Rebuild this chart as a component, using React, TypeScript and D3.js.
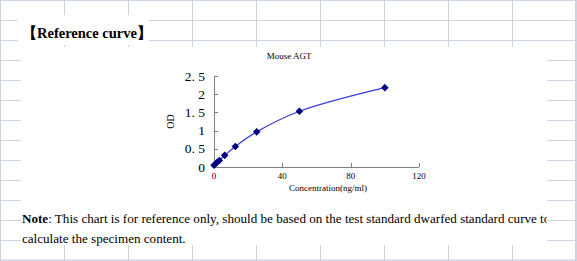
import React from "react";
import * as d3 from "d3";

const concentrations = [0, 1.56, 3.125, 6.25, 12.5, 25, 50, 100];
const odValues = [0.05, 0.12, 0.18, 0.32, 0.565, 0.965, 1.53, 2.18];
const xTicks = [0, 40, 80, 120];
const yTicks = [0, 0.5, 1, 1.5, 2, 2.5];
const chartTitle = "Mouse AGT";
const xTitle = "Concentration(ng/ml)";
const yTitle = "OD";
const heading = "【Reference curve】";
const noteLine1 = ": This chart is for reference only, should be based on the test standard dwarfed standard curve to";
const noteLine2 = "calculate the specimen content.";

const W = 577;
const H = 261;
const gridColor = "#cdd3e2";
const serif = "'Liberation Serif', 'Times New Roman', serif";

export default function App() {
  const x = d3.scaleLinear().domain([0, 120]).range([214, 419]);
  const y = d3.scaleLinear().domain([0, 2.5]).range([167, 76]);
  const pts: [number, number][] = concentrations.map((c, i) => [c, odValues[i]]);
  const line = d3
    .line<[number, number]>()
    .x((d) => x(d[0]))
    .y((d) => y(d[1]))
    .curve(d3.curveCatmullRom.alpha(0.5));

  const vLines = d3.range(64, 577, 64);
  const hLines = d3.range(20, 261, 20);
  const fmtY = (v: number) => (Number.isInteger(v) ? String(v) : String(v).replace(".", ". "));

  return (
    <svg
      width={W}
      height={H}
      style={{ position: "fixed", left: 0, top: 0, background: "#fff" }}
    >
      <defs>
        <clipPath id="noteClip">
          <rect x={20} y={200} width={527} height={50} />
        </clipPath>
      </defs>
      {/* background grid */}
      {vLines.map((v) => (
        <line key={"v" + v} x1={v + 0.5} x2={v + 0.5} y1={0} y2={H} stroke={gridColor} strokeWidth={1} />
      ))}
      {hLines.map((h) => (
        <line key={"h" + h} x1={0} x2={W} y1={h + 0.5} y2={h + 0.5} stroke={gridColor} strokeWidth={1} />
      ))}
      <rect x={0.5} y={0.5} width={575} height={259.5} fill="none" stroke={gridColor} strokeWidth={1} />
      {/* white panels */}
      <rect x={18} y={15} width={131} height={30} fill="#fff" />
      <rect x={21} y={47} width={526} height={198} fill="#fff" />

      {/* heading */}
      <text x={22} y={38} fontFamily={serif} fontSize={14.5} fontWeight="bold" fill="#000">
        {heading}
      </text>

      {/* chart title */}
      <text x={289} y={59} textAnchor="middle" fontFamily={serif} fontSize={9} fill="#000">
        {chartTitle}
      </text>

      {/* axes */}
      <g stroke="#808080" strokeWidth={1} fill="none">
        <line x1={x(0) + 0.5} x2={x(0) + 0.5} y1={y(2.5)} y2={y(0)} />
        <line x1={x(0)} x2={x(120)} y1={y(0) + 0.5} y2={y(0) + 0.5} />
        {yTicks.map((t) => (
          <line key={"yt" + t} x1={x(0)} x2={x(0) + 4} y1={Math.round(y(t)) + 0.5} y2={Math.round(y(t)) + 0.5} />
        ))}
        {xTicks.map((t) => (
          <line key={"xt" + t} x1={Math.round(x(t)) + 0.5} x2={Math.round(x(t)) + 0.5} y1={y(0)} y2={y(0) - 4} />
        ))}
      </g>
      {yTicks.map((t) => (
        <text
          key={"yl" + t}
          x={205}
          y={y(t) + 4.5}
          textAnchor="end"
          fontFamily={serif}
          fontSize={13.5}
          fill="#000"
        >
          {fmtY(t)}
        </text>
      ))}
      {xTicks.map((t) => (
        <text
          key={"xl" + t}
          x={x(t)}
          y={y(0) + 12}
          textAnchor="middle"
          fontFamily={serif}
          fontSize={9}
          fill="#000"
        >
          {t}
        </text>
      ))}
      <text
        transform={`translate(174,${(y(0) + y(2.5)) / 2}) rotate(-90)`}
        textAnchor="middle"
        fontFamily={serif}
        fontSize={10}
        fill="#000"
      >
        {yTitle}
      </text>
      <text x={328} y={191} textAnchor="middle" fontFamily={serif} fontSize={9} fill="#000">
        {xTitle}
      </text>

      {/* curve */}
      <path d={line(pts) || ""} fill="none" stroke="#3a3ad0" strokeWidth={1.2} />
      {pts.map((p, i) => {
        const cx = x(p[0]);
        const cy = y(p[1]);
        const s = 3.8;
        return (
          <path
            key={"m" + i}
            d={`M${cx},${cy - s}L${cx + s},${cy}L${cx},${cy + s}L${cx - s},${cy}Z`}
            fill="#000080"
          />
        );
      })}

      {/* note */}
      <g clipPath="url(#noteClip)">
        <text x={22} y={223} fontFamily={serif} fontSize={13.1} fill="#000">
          <tspan fontWeight="bold">Note</tspan>
          {noteLine1}
        </text>
        <text x={22} y={243} fontFamily={serif} fontSize={13.1} fill="#000">
          {noteLine2}
        </text>
      </g>
    </svg>
  );
}
